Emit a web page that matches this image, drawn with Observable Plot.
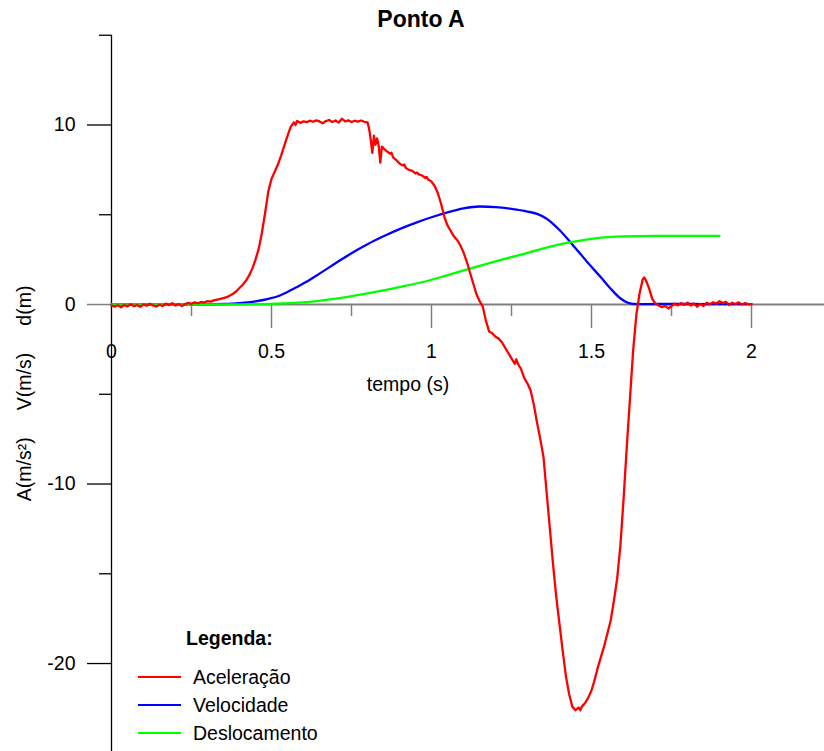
<!DOCTYPE html>
<html>
<head>
<meta charset="utf-8">
<script src="https://cdn.jsdelivr.net/npm/d3@7"></script>
<script src="https://cdn.jsdelivr.net/npm/@observablehq/plot@0.6"></script>
<style>
  body { margin: 0; background: #fff; font-family: "Liberation Sans", Arial, sans-serif; }
  #wrap { position: relative; width: 824px; height: 751px; overflow: hidden; background: #fff; }
  #title { height: 30px; width: 842px; text-align: center; font-weight: bold; font-size: 23px; line-height: 38px; color: #000; }
  #legend { position: absolute; left: 138px; top: 624px; font-size: 19.5px; color: #000; }
  #legend .head { margin-left: 48px; height: 28px; line-height: 28px; font-weight: bold; margin-bottom: 11px; }
  #legend .row { height: 28px; display: flex; align-items: center; }
  #legend .sw { width: 43px; height: 2px; margin-right: 12px; }
</style>
</head>
<body>
<div id="wrap">
  <div id="title"></div>
  <div id="chart"></div>
  <div id="legend"></div>
</div>
<script>
const titleText = "Ponto A";
const xLabel = "tempo (s)";
const yLabel = "A(m/s²)\u00a0\u00a0\u00a0\u00a0\u00a0V(m/s)\u00a0\u00a0\u00a0\u00a0\u00a0d(m)";
const legendTitle = "Legenda:";
const seriesNames = ["Aceleração", "Velocidade", "Deslocamento"];
const seriesColors = ["#ff0000", "#0000ff", "#00ff00"];

const xMajor = [0.5, 1, 1.5, 2];
const xMinor = [0.25, 0.75, 1.25, 1.75];
const xTickLabels = [0, 0.5, 1, 1.5, 2];
const yMajor = [10, -10, -20];
const yZero = [0];
const yMinor = [15, 5, -5, -15];
const yTickLabels = [10, 0, -10, -20];

// Aceleração (m/s²)
const accTime = [
  0.00,0.01,0.02,0.03,0.04,0.05,0.06,0.07,0.08,0.09,
  0.10,0.11,0.12,0.13,0.14,0.15,0.16,0.17,0.18,0.19,
  0.20,0.21,0.22,0.23,0.24,0.25,0.26,0.27,0.28,0.29,
  0.30,0.31,0.32,0.33,0.34,0.35,0.36,0.37,0.38,0.39,
  0.40,0.41,0.42,0.43,0.44,0.45,0.46,0.47,0.48,0.49,
  0.50,0.51,0.52,0.53,0.54,0.55,0.56,0.57,0.575,0.58,0.59,
  0.60,0.61,0.62,0.63,0.64,0.65,0.66,0.67,0.68,0.69,
  0.70,0.71,0.72,0.73,0.74,0.75,0.76,0.77,0.78,0.79,
  0.80,0.805,0.81,0.815,0.82,0.825,0.83,0.835,0.84,0.845,
  0.85,0.86,0.87,0.875,0.88,0.89,0.90,0.91,0.915,0.92,0.93,0.94,
  0.95,0.955,0.96,0.97,0.98,0.985,0.99,
  1.00,1.01,1.02,1.03,1.04,1.05,1.06,1.07,1.08,1.09,
  1.10,1.11,1.12,1.13,1.14,1.15,1.16,1.17,1.18,1.19,
  1.20,1.21,1.22,1.23,1.24,1.25,1.26,1.265,1.27,1.28,1.29,
  1.30,1.31,1.32,1.33,1.34,1.35,1.36,1.37,1.38,1.39,
  1.40,1.41,1.42,1.43,1.44,1.45,1.46,1.465,1.47,1.48,1.49,
  1.50,1.51,1.52,1.53,1.54,1.55,1.56,1.57,1.58,1.59,
  1.60,1.61,1.62,1.63,1.64,1.65,1.66,1.665,1.67,1.68,1.69,
  1.70,1.71,1.72,1.73,1.74,1.75,1.76,1.77,1.78,1.79,
  1.80,1.81,1.82,1.83,1.84,1.85,1.86,1.87,1.88,1.89,
  1.90,1.91,1.92,1.93,1.94,1.95,1.96,1.97,1.98,1.99,2.00
];
const accValue = [
  -0.05,-0.12,-0.04,-0.15,-0.03,-0.10,0.02,-0.09,-0.03,-0.13,
  0.01,-0.07,0.04,-0.05,-0.11,-0.01,-0.08,0.05,-0.03,0.07,
  -0.06,0.03,-0.09,0.02,0.09,0.04,0.12,0.07,0.14,0.11,
  0.19,0.16,0.23,0.27,0.31,0.36,0.41,0.50,0.60,0.74,
  0.92,1.10,1.32,1.62,2.00,2.50,3.10,4.00,5.10,6.30,
  7.00,7.40,7.80,8.30,8.85,9.40,9.90,10.15,10.00,10.22,10.12,
  10.20,10.16,10.24,10.18,10.26,10.20,10.10,10.22,10.28,10.17,
  10.25,10.14,10.35,10.20,10.26,10.17,10.24,10.19,10.25,10.18,
  10.15,9.80,9.20,8.45,9.40,8.90,9.25,8.85,7.90,8.80,
  8.70,8.55,8.40,8.45,8.20,8.05,7.85,7.75,7.80,7.60,7.50,7.45,
  7.30,7.35,7.25,7.20,7.05,7.10,6.95,
  6.85,6.60,6.20,5.60,4.90,4.40,4.10,3.80,3.60,3.30,
  2.90,2.40,1.80,1.20,0.60,0.20,-0.10,-0.90,-1.50,-1.60,
  -1.80,-1.90,-2.10,-2.40,-2.70,-3.00,-3.30,-3.05,-3.30,-3.60,-4.10,
  -4.40,-4.80,-5.60,-6.60,-7.50,-8.50,-10.50,-12.50,-14.50,-16.30,
  -17.80,-19.30,-20.70,-21.70,-22.40,-22.60,-22.45,-22.60,-22.40,-22.20,-21.90,
  -21.50,-20.90,-20.20,-19.60,-19.00,-18.30,-17.60,-16.50,-15.30,-13.50,
  -10.90,-8.00,-5.30,-2.60,-0.60,0.60,1.40,1.50,1.35,0.90,0.30,
  0.05,-0.05,-0.15,-0.08,-0.22,-0.10,0.05,-0.05,0.08,-0.02,
  0.10,-0.05,0.06,-0.12,0.03,-0.08,0.10,0.02,0.12,0.05,
  0.18,0.08,0.15,-0.02,0.10,0.03,0.12,0.00,0.08,0.02,0.02
];

// Velocidade (m/s)
const velTime = [0.00,0.10,0.20,0.30,0.35,0.40,0.45,0.49,0.52,0.55,0.58,0.62,0.65,0.70,0.75,0.80,0.85,0.90,0.95,1.00,1.05,1.10,1.15,1.20,1.25,1.30,1.33,1.36,1.40,1.44,1.49,1.53,1.56,1.59,1.61,1.63,1.66,1.70,1.80,1.90,2.00];
const velValue = [0.00,0.00,0.00,0.01,0.03,0.08,0.18,0.32,0.46,0.70,0.98,1.38,1.72,2.30,2.86,3.36,3.80,4.20,4.55,4.86,5.13,5.35,5.46,5.43,5.33,5.18,5.05,4.78,4.15,3.35,2.30,1.50,0.88,0.35,0.13,0.04,0.02,0.03,0.03,0.02,0.02];

// Deslocamento (m)
const dispTime = [0.00,0.20,0.30,0.40,0.50,0.60,0.69,0.80,0.90,1.00,1.05,1.12,1.20,1.30,1.40,1.45,1.50,1.55,1.60,1.70,1.80,1.90];
const dispValue = [0.00,0.00,0.00,0.01,0.04,0.12,0.30,0.62,0.97,1.38,1.64,2.00,2.40,2.88,3.35,3.52,3.66,3.75,3.80,3.82,3.82,3.82];

const acc = accTime.map((t, i) => ({t, v: accValue[i]}));
const vel = velTime.map((t, i) => ({t, v: velValue[i]}));
const disp = dispTime.map((t, i) => ({t, v: dispValue[i]}));

document.getElementById("title").textContent = titleText;

const gray = "#808080";
const chart = Plot.plot({
  width: 824,
  height: 721,
  marginLeft: 111,
  marginRight: 0,
  marginTop: 4.75,
  marginBottom: 0,
  x: {domain: [0, 2.228125], axis: null},
  y: {domain: [-24.9, 15], axis: null},
  style: {fontFamily: "'Liberation Sans', Arial, sans-serif", fontSize: "19.5px", background: "#fff", color: "#000", overflow: "visible"},
  marks: [
    Plot.ruleY(yZero, {stroke: gray, strokeWidth: 2}),
    Plot.ruleX(xMajor, {x: d => d, y1: 0, y2: 0, insetTop: 0, insetBottom: -24, stroke: gray, strokeWidth: 1.5}),
    Plot.ruleX(xMinor, {x: d => d, y1: 0, y2: 0, insetTop: 0, insetBottom: -12, stroke: gray, strokeWidth: 1.5}),
    Plot.ruleY(yZero, {y: d => d, x1: 0, x2: 0, insetLeft: -24, insetRight: 0, stroke: gray, strokeWidth: 1.5}),
    Plot.ruleY(yMajor, {y: d => d, x1: 0, x2: 0, insetLeft: -24, insetRight: 0, stroke: "#000", strokeWidth: 1.3}),
    Plot.ruleY(yMinor, {y: d => d, x1: 0, x2: 0, insetLeft: -12, insetRight: 0, stroke: "#000", strokeWidth: 1.3}),
    Plot.ruleX([0], {stroke: "#000", strokeWidth: 1.3}),
    Plot.text(yTickLabels, {y: d => d, frameAnchor: "left", text: d => String(d), textAnchor: "end", dx: -36, fill: "#000"}),
    Plot.text(xTickLabels, {x: d => d, y: () => 0, text: d => String(d), textAnchor: "middle", dy: 47, fill: "#000"}),
    Plot.text([xLabel], {frameAnchor: "top-left", text: d => d, textAnchor: "middle", dx: 296.5, dy: 341.5, fill: "#000"}),
    Plot.text([yLabel], {frameAnchor: "left", text: d => d, rotate: -90, textAnchor: "middle", dx: -87, fill: "#000"}),
    Plot.line(vel, {x: "t", y: "v", stroke: seriesColors[1], strokeWidth: 2.3, curve: "monotone-x"}),
    Plot.line(disp, {x: "t", y: "v", stroke: seriesColors[2], strokeWidth: 2.3, curve: "monotone-x"}),
    Plot.line(acc, {x: "t", y: "v", stroke: seriesColors[0], strokeWidth: 2.3, strokeLinejoin: "round"})
  ]
});
document.getElementById("chart").appendChild(chart);

const legend = document.getElementById("legend");
const head = document.createElement("div");
head.className = "head";
head.textContent = legendTitle;
legend.appendChild(head);
seriesNames.forEach((name, i) => {
  const row = document.createElement("div");
  row.className = "row";
  const sw = document.createElement("span");
  sw.className = "sw";
  sw.style.background = seriesColors[i];
  const label = document.createElement("span");
  label.textContent = name;
  row.appendChild(sw);
  row.appendChild(label);
  legend.appendChild(row);
});
</script>
</body>
</html>
